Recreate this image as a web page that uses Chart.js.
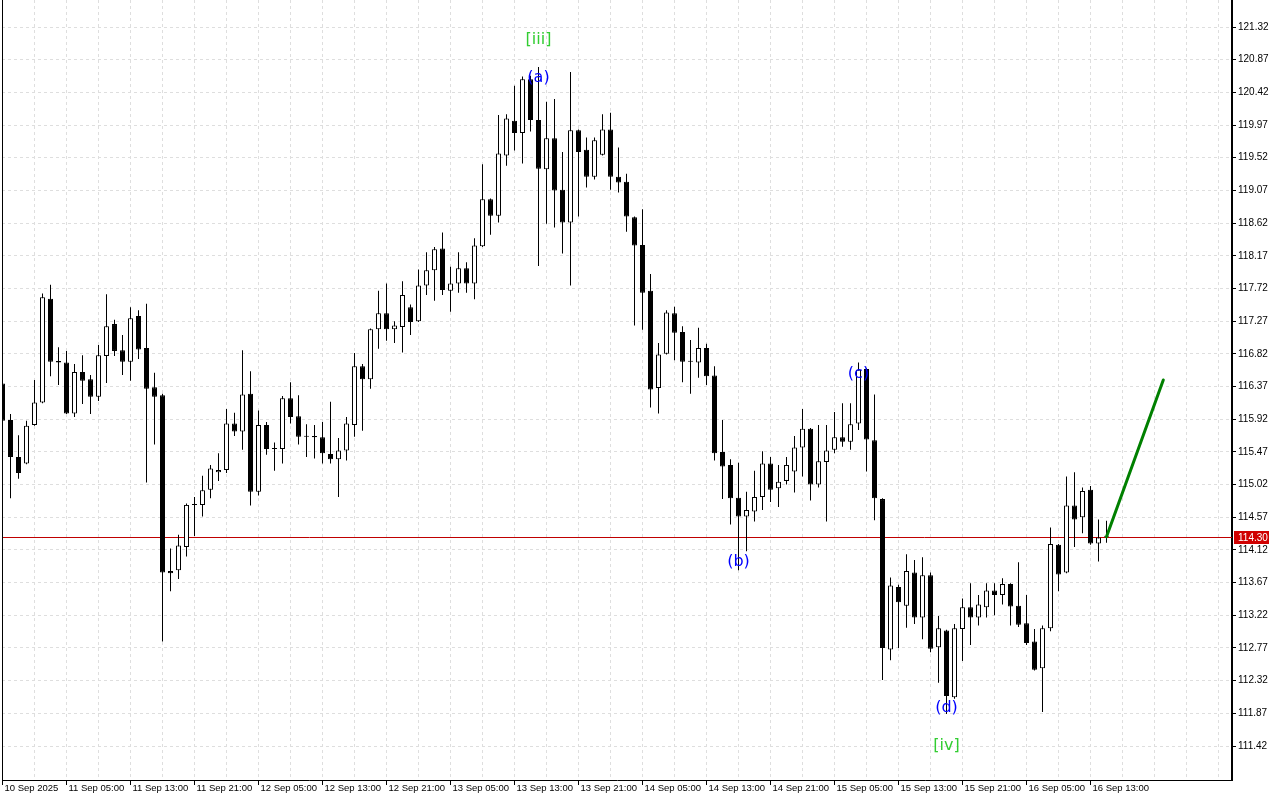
<!DOCTYPE html>
<html><head><meta charset="utf-8">
<script src="https://cdn.jsdelivr.net/npm/chart.js@4.4.1/dist/chart.umd.min.js"></script>
<style>html,body{margin:0;padding:0;background:#fff;overflow:hidden}canvas{display:block}</style>
</head><body><canvas id="c" width="1280" height="800"></canvas>
<script>
const opens = [116.41,115.91,115.40,115.31,115.84,116.15,117.58,116.72,116.70,116.00,
116.57,116.47,116.23,116.79,117.23,116.87,116.71,117.34,116.90,116.36,
116.25,113.83,113.84,114.16,114.74,114.74,114.95,115.19,115.22,115.86,
115.75,116.27,114.92,115.84,115.51,115.51,116.21,115.96,115.68,115.69,
115.67,115.44,115.37,115.49,115.84,116.65,116.47,117.16,117.38,117.16,
117.19,117.46,117.27,117.76,117.97,118.27,117.69,117.79,118.00,117.79,
118.30,118.95,118.72,119.55,120.03,119.86,120.60,120.04,119.36,119.79,
119.08,118.63,119.90,119.63,119.26,119.56,119.91,119.26,119.19,118.70,
118.32,117.69,116.35,116.82,117.38,117.12,116.72,116.70,116.90,116.52,
115.47,115.29,114.84,114.58,114.65,114.85,115.31,114.97,115.07,115.20,
115.53,115.79,115.02,115.33,115.50,115.67,115.61,115.86,116.61,115.63,
114.82,112.75,113.61,113.35,113.81,113.19,113.77,112.78,113.01,112.09,
113.03,113.33,113.19,113.33,113.56,113.50,113.65,113.35,113.11,112.86,
112.49,113.04,114.19,113.81,114.73,114.57,114.95,114.21,114.31];
const highs = [116.45,115.99,115.70,115.90,116.46,117.65,117.77,116.91,116.86,116.68,
116.80,116.53,116.94,117.64,117.29,117.08,117.46,117.42,117.51,116.56,
116.27,114.14,114.33,114.76,114.85,115.14,115.29,115.45,116.06,116.01,
116.87,116.58,116.04,115.88,115.60,116.24,116.43,116.25,115.85,115.84,
115.88,116.16,115.66,115.95,116.83,116.68,117.17,117.69,117.79,117.27,
117.82,117.50,117.98,118.22,118.29,118.49,118.02,118.22,118.08,118.41,
119.43,118.96,120.11,120.12,120.51,120.64,120.65,120.77,120.29,120.33,
119.60,120.70,119.91,119.80,119.80,120.12,120.14,119.66,119.30,118.71,
118.81,117.92,116.97,117.42,117.47,117.20,117.01,117.18,116.96,116.65,
115.91,115.37,115.32,114.92,115.21,115.48,115.40,115.29,115.40,115.69,
116.06,115.80,115.84,115.84,116.02,116.14,116.14,116.70,116.62,116.26,
114.83,113.74,113.64,114.06,113.98,114.02,113.81,113.21,113.02,113.10,
113.45,113.66,113.50,113.66,113.66,113.73,113.66,113.95,113.50,113.03,
113.08,114.43,114.20,115.13,115.19,114.98,115.00,114.54,114.52];
const lows = [115.87,114.83,115.10,115.30,115.83,116.14,116.51,116.39,115.99,115.95,
116.13,115.99,116.17,116.42,116.79,116.53,116.45,116.75,115.05,115.57,
112.86,113.55,113.72,114.03,114.31,114.58,114.83,115.07,115.18,115.69,
115.50,114.73,114.87,115.43,115.21,115.31,115.86,115.57,115.40,115.38,
115.31,115.31,114.85,115.35,115.68,115.76,116.34,116.89,117.00,116.97,
116.84,117.08,117.26,117.63,117.55,117.63,117.40,117.66,117.66,117.57,
118.29,118.46,118.63,119.41,119.62,119.44,119.88,118.03,118.61,118.56,
118.20,117.76,118.71,119.11,119.22,119.55,119.08,119.04,118.50,117.21,
117.15,116.08,116.00,116.81,116.73,116.43,116.27,116.49,116.39,115.35,
114.82,114.47,113.84,114.10,114.51,114.67,114.78,114.71,115.02,114.91,
115.13,114.80,114.98,114.51,115.45,115.54,115.50,115.77,115.20,114.53,
112.33,112.60,112.77,113.05,113.10,112.89,112.71,112.29,111.86,112.07,
112.59,112.81,113.08,113.19,113.22,113.37,113.08,113.06,112.81,112.46,
111.89,113.00,113.55,113.80,114.16,114.35,114.19,113.96,114.22];
const closes = [115.90,115.40,115.18,115.83,116.15,117.60,116.71,116.70,116.00,116.57,
116.45,116.23,116.80,117.20,116.86,116.71,117.31,116.88,116.34,116.23,
113.81,113.80,114.18,114.74,114.75,114.94,115.24,115.22,115.86,115.75,
116.26,114.92,115.84,115.51,115.52,116.21,115.95,115.68,115.69,115.67,
115.45,115.37,115.49,115.86,116.65,116.47,117.16,117.38,117.16,117.21,
117.63,117.26,117.76,117.97,118.26,117.70,117.79,118.00,117.79,118.31,
118.95,118.72,119.58,120.06,119.86,120.60,120.04,119.37,119.79,119.07,
118.63,119.90,119.60,119.26,119.76,119.91,119.26,119.18,118.71,118.31,
117.66,116.33,116.81,117.39,117.11,116.71,116.71,116.90,116.51,115.45,
115.27,114.83,114.58,114.67,114.85,115.31,114.95,115.06,115.29,115.53,
115.79,115.02,115.34,115.49,115.67,115.61,115.85,116.60,115.64,114.83,
112.77,113.63,113.40,113.83,113.19,113.77,112.76,113.04,112.11,113.04,
113.33,113.19,113.37,113.56,113.50,113.65,113.34,113.09,112.84,112.47,
113.04,114.20,113.78,114.73,114.54,114.93,114.21,114.29,114.30];

const timeLabels = ['10 Sep 2025','11 Sep 05:00','11 Sep 13:00','11 Sep 21:00','12 Sep 05:00','12 Sep 13:00',
'12 Sep 21:00','13 Sep 05:00','13 Sep 13:00','13 Sep 21:00','14 Sep 05:00','14 Sep 13:00','14 Sep 21:00',
'15 Sep 05:00','15 Sep 13:00','15 Sep 21:00','16 Sep 05:00','16 Sep 13:00'];
const barsPerLabel = 8;
const barsPerGrid = 4;
const priceTicks = [121.32,120.87,120.42,119.97,119.52,119.07,118.62,118.17,117.72,117.27,116.82,116.37,
115.92,115.47,115.02,114.57,114.12,113.67,113.22,112.77,112.32,111.87,111.42];

const waveText = ['[iii]','(a)','(b)','(c)','(d)','[iv]'];
const waveIndex = [67,67,92,107,118,118];
const wavePrice = [121.14,120.62,113.95,116.55,111.94,111.42];

const forecastIndex = [138,145.1];
const forecastPrice = [114.30,116.46];

const xMin = -0.0625, xMax = 153.6875;
const yMin = 110.952, yMax = 121.692;

const idx = opens.map((_, i) => i);
const wickData = idx.map(i => ({x: i, y: [lows[i], highs[i]]}));
const bodyData = idx.map(i => ({x: i, y: [opens[i], closes[i]]}));
const forecastData = forecastIndex.map((v, i) => ({x: v, y: forecastPrice[i]}));

const gridTicks = [];
for (let v = 0; v <= xMax; v += barsPerGrid) gridTicks.push(v);

const overlay = {
  id: 'overlay',
  beforeDatasetsDraw(chart) {
    const {ctx, chartArea: a, scales: {y}} = chart;
    const py = Math.round(y.getPixelForValue(closes[closes.length - 1])) + 0.5;
    ctx.save();
    ctx.strokeStyle = '#c00000'; ctx.lineWidth = 1;
    ctx.beginPath(); ctx.moveTo(a.left, py); ctx.lineTo(a.right, py); ctx.stroke();
    ctx.restore();
  },
  afterDatasetsDraw(chart) {
    const {ctx, chartArea: a, scales: {x, y}} = chart;
    ctx.save();
    ctx.beginPath(); ctx.rect(a.left, a.top, a.right - a.left, a.bottom - a.top); ctx.clip();
    ctx.font = '16px "DejaVu Sans"';
    ctx.textAlign = 'center'; ctx.textBaseline = 'middle';
    waveText.forEach((t, i) => {
      ctx.fillStyle = t.charAt(0) === '[' ? '#32cd32' : '#0000ff';
      ctx.fillText(t, x.getPixelForValue(waveIndex[i]), y.getPixelForValue(wavePrice[i]));
    });
    ctx.restore();
  },
  afterDraw(chart) {
    const {ctx, chartArea: a, scales: {y}} = chart;
    ctx.save();
    ctx.strokeStyle = '#000'; ctx.lineWidth = 1;
    ctx.beginPath(); ctx.moveTo(a.left + 0.5, a.bottom); ctx.lineTo(a.left + 0.5, a.top); ctx.stroke();
    const last = closes[closes.length - 1];
    const py = Math.round(y.getPixelForValue(last));
    ctx.fillStyle = '#d00000';
    ctx.fillRect(a.right + 2, py - 6, 35, 13);
    ctx.fillStyle = '#fff';
    ctx.font = '10px "Liberation Sans"';
    ctx.textAlign = 'left'; ctx.textBaseline = 'middle';
    ctx.fillText(last.toFixed(2), a.right + 6, py + 1);
    ctx.restore();
  }
};

new Chart(document.getElementById('c'), {
  type: 'bar',
  data: {
    datasets: [
      {type: 'line', data: forecastData, borderColor: '#008000', borderWidth: 3, pointRadius: 0, order: 1, borderCapStyle: 'round'},
      {data: bodyData, grouped: false, barThickness: 5, minBarLength: 1, borderWidth: 1, borderColor: '#000',
       borderSkipped: false, inflateAmount: 0,
       backgroundColor: ctx => (closes[ctx.dataIndex] > opens[ctx.dataIndex] ? '#ffffff' : '#000000'), order: 2},
      {data: wickData, grouped: false, barThickness: 1, borderWidth: 0, inflateAmount: 0, backgroundColor: '#000', order: 3}
    ]
  },
  options: {
    responsive: false, animation: false, devicePixelRatio: 1, events: [],
    layout: {padding: {left: 2, top: 0, right: 0, bottom: 0}, autoPadding: false},
    plugins: {legend: {display: false}, tooltip: {enabled: false}},
    scales: {
      x: {
        type: 'linear', min: xMin, max: xMax, offset: false, bounds: 'data',
        grid: {offset: false, color: '#dedede', lineWidth: 1, tickLength: 5,
          tickColor: c => (c.tick && c.tick.value % barsPerLabel === 0 && c.tick.value / barsPerLabel < timeLabels.length) ? '#000' : 'rgba(0,0,0,0)'},
        border: {display: true, color: '#000', width: 1, dash: [3, 3]},
        afterBuildTicks: s => { s.ticks = gridTicks.map(v => ({value: v})); },
        afterFit: s => { s.height = 20; s.paddingLeft = 0; s.paddingRight = 0; s.paddingTop = 0; s.paddingBottom = 0; },
        ticks: {
          autoSkip: false, maxRotation: 0, minRotation: 0, align: 'start', labelOffset: 2, padding: -2,
          color: '#000', font: {family: 'Liberation Sans', size: 9.5},
          callback: v => (v % barsPerLabel === 0 ? (timeLabels[v / barsPerLabel] || '') : '')
        }
      },
      y: {
        type: 'linear', position: 'right', min: yMin, max: yMax, bounds: 'data', beginAtZero: false,
        grid: {color: '#dedede', lineWidth: 1, tickLength: 4, tickColor: '#000'},
        border: {display: true, color: '#000', width: 2, dash: [3, 3]},
        afterBuildTicks: s => { s.ticks = priceTicks.map(v => ({value: v})); },
        afterFit: s => { s.width = 48; s.paddingLeft = 0; s.paddingRight = 0; s.paddingTop = 0; s.paddingBottom = 0; },
        ticks: {autoSkip: false, padding: 2, color: '#000', font: {family: 'Liberation Sans', size: 10},
          callback: v => Number(v).toFixed(2)}
      }
    }
  },
  plugins: [overlay]
});
</script>
</body></html>
